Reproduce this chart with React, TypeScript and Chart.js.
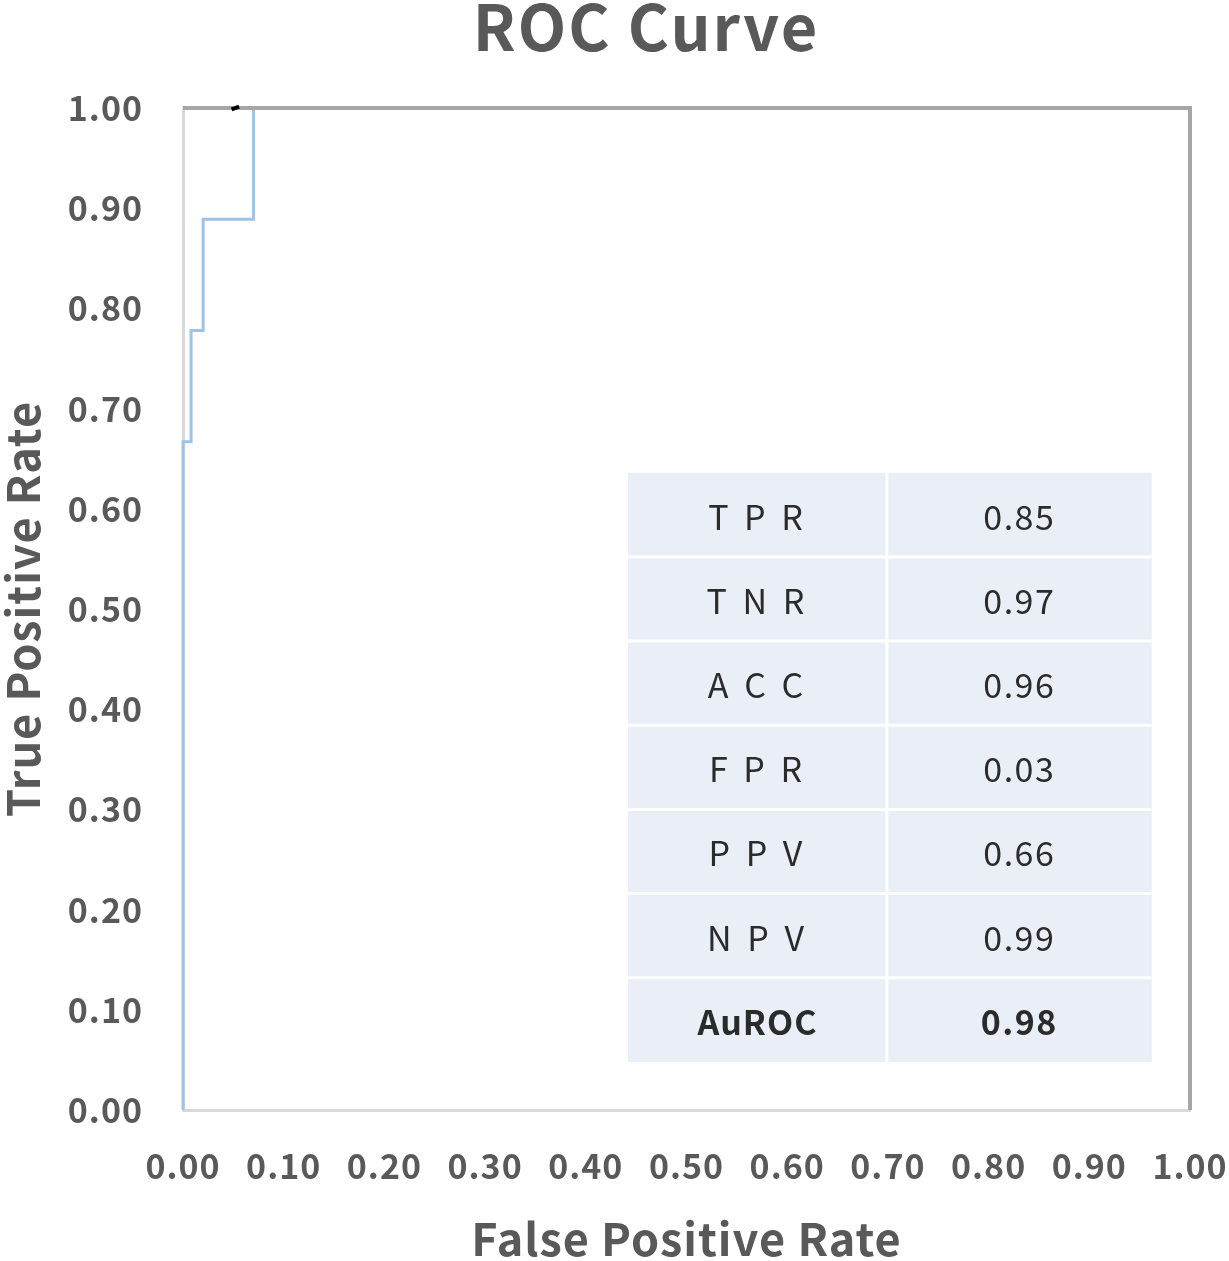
import React, { useEffect, useRef } from "react";
import { Chart, registerables } from "chart.js";

Chart.register(...registerables);

const chartTitle = "ROC Curve";
const xAxisTitle = "False Positive Rate";
const yAxisTitle = "True Positive Rate";

const fprValues = [0, 0, 0.008, 0.008, 0.02, 0.02, 0.07, 0.07, 1.0];
const tprValues = [0, 0.667, 0.667, 0.778, 0.778, 0.889, 0.889, 1.0, 1.0];

const cutoffFpr = [0.052];
const cutoffTpr = [1.0];

const metricNames = ["T P R", "T N R", "A C C", "F P R", "P P V", "N P V", "AuROC"];
const metricValues = ["0.85", "0.97", "0.96", "0.03", "0.66", "0.99", "0.98"];

// table box in data coordinates
const tableX = [0.442, 0.699, 0.962];
const tableY = [0.636, 0.048];

const FONT = "'Noto Sans CJK KR', 'Noto Sans', sans-serif";
const GREY = "#595959";

export default function App() {
  const ref = useRef<HTMLCanvasElement>(null);

  useEffect(() => {
    document.body.style.margin = "0";
    const canvas = ref.current!;
    const points = fprValues.map((x, i) => ({ x, y: tprValues[i] }));
    const cutoff = cutoffFpr.map((x, i) => ({ x, y: cutoffTpr[i] }));

    const decor = {
      id: "decor",
      beforeDraw(chart: any) {
        (chart.ctx as any).letterSpacing = "1px";
      },
      beforeDatasetsDraw(chart: any) {
        const { ctx, scales } = chart;
        const xs = scales.x;
        const ys = scales.y;
        ctx.save();
        // table
        const x0 = xs.getPixelForValue(tableX[0]);
        const xm = xs.getPixelForValue(tableX[1]);
        const x1 = xs.getPixelForValue(tableX[2]);
        const yTop = ys.getPixelForValue(tableY[0]);
        const yBot = ys.getPixelForValue(tableY[1]);
        const rowH = (yBot - yTop) / metricNames.length;
        ctx.fillStyle = "#E9EEF7";
        ctx.fillRect(x0, yTop, x1 - x0, yBot - yTop);
        ctx.strokeStyle = "#FFFFFF";
        ctx.lineWidth = 3;
        for (let i = 1; i < metricNames.length; i++) {
          ctx.beginPath();
          ctx.moveTo(x0, yTop + i * rowH);
          ctx.lineTo(x1, yTop + i * rowH);
          ctx.stroke();
        }
        ctx.beginPath();
        ctx.moveTo(xm, yTop);
        ctx.lineTo(xm, yBot);
        ctx.stroke();
        ctx.textAlign = "center";
        ctx.textBaseline = "middle";
        ctx.fillStyle = "#2B2B2B";
        metricNames.forEach((name, i) => {
          const bold = i === metricNames.length - 1;
          ctx.font = `${bold ? "bold " : ""}34px ${FONT}`;
          const cy = yTop + (i + 0.5) * rowH + 2;
          (ctx as any).letterSpacing = bold ? "1px" : "4px";
          ctx.fillText(name, (x0 + xm) / 2, cy);
          (ctx as any).letterSpacing = "1.5px";
          ctx.fillText(metricValues[i], (xm + x1) / 2, cy);
        });
        // title
        ctx.fillStyle = GREY;
        ctx.font = `bold 63px ${FONT}`;
        (ctx as any).letterSpacing = "2px";
        ctx.textAlign = "center";
        ctx.textBaseline = "alphabetic";
        ctx.fillText(chartTitle, 646, 51);
        ctx.restore();
      },
      afterDatasetDraw(chart: any, args: any) {
        if (args.index !== 1) return;
        const { ctx, chartArea } = chart;
        ctx.save();
        // top & right frame (drawn over the curve, under the cutoff marker)
        ctx.strokeStyle = "#A6A6A6";
        ctx.lineWidth = 4;
        ctx.beginPath();
        ctx.moveTo(chartArea.left, chartArea.top);
        ctx.lineTo(chartArea.right, chartArea.top);
        ctx.lineTo(chartArea.right, chartArea.bottom);
        ctx.stroke();
        ctx.restore();
      },
    };

    const chart = new Chart(canvas, {
      type: "scatter",
      data: {
        datasets: [
          {
            data: cutoff,
            showLine: false,
            pointStyle: "line",
            pointRadius: 4,
            rotation: -20,
            borderColor: "#000000",
            borderWidth: 4,
            clip: false as any,
          },
          {
            data: points,
            showLine: true,
            borderColor: "#9DC3E6",
            borderWidth: 3,
            pointRadius: 0,
            clip: false as any,
          },
        ],
      },
      options: {
        animation: false,
        responsive: false,
        devicePixelRatio: 1,
        layout: { padding: { top: 108, right: 39, left: 0, bottom: 0 } },
        plugins: {
          legend: { display: false },
          tooltip: { enabled: false },
          title: { display: false },
        },
        scales: {
          x: {
            type: "linear",
            min: 0,
            max: 1,
            afterFit: (s: any) => {
              s.height = 151;
              s.paddingLeft = 0;
              s.paddingRight = 0;
            },
            grid: { display: false, drawTicks: false },
            border: { display: true, color: "#D9D9D9", width: 3 },
            ticks: {
              stepSize: 0.1,
              padding: 36,
              color: GREY,
              font: { family: FONT, size: 34, weight: "bold" },
              callback: (v: any) => Number(v).toFixed(2),
              maxRotation: 0,
              autoSkip: false,
            },
            title: {
              display: true,
              text: xAxisTitle,
              color: GREY,
              font: { family: FONT, size: 45, weight: "bold", lineHeight: 1 },
              padding: { top: 0, bottom: 0 },
            },
          },
          y: {
            type: "linear",
            min: 0,
            max: 1,
            afterFit: (s: any) => {
              s.width = 183;
              s.paddingTop = 0;
              s.paddingBottom = 0;
            },
            grid: { display: false, drawTicks: false },
            border: { display: true, color: "#D9D9D9", width: 3 },
            ticks: {
              stepSize: 0.1,
              padding: 40,
              color: GREY,
              font: { family: FONT, size: 34, weight: "bold" },
              callback: (v: any) => Number(v).toFixed(2),
              autoSkip: false,
            },
            title: {
              display: true,
              text: yAxisTitle,
              color: GREY,
              font: { family: FONT, size: 45, weight: "bold", lineHeight: 1 },
              padding: { top: 0, bottom: 0 },
            },
          },
        },
      },
      plugins: [decor],
    });
    return () => chart.destroy();
  }, []);

  return (
    <div style={{ width: 1229, height: 1261 }}>
      <canvas ref={ref} width={1229} height={1261} />
    </div>
  );
}
